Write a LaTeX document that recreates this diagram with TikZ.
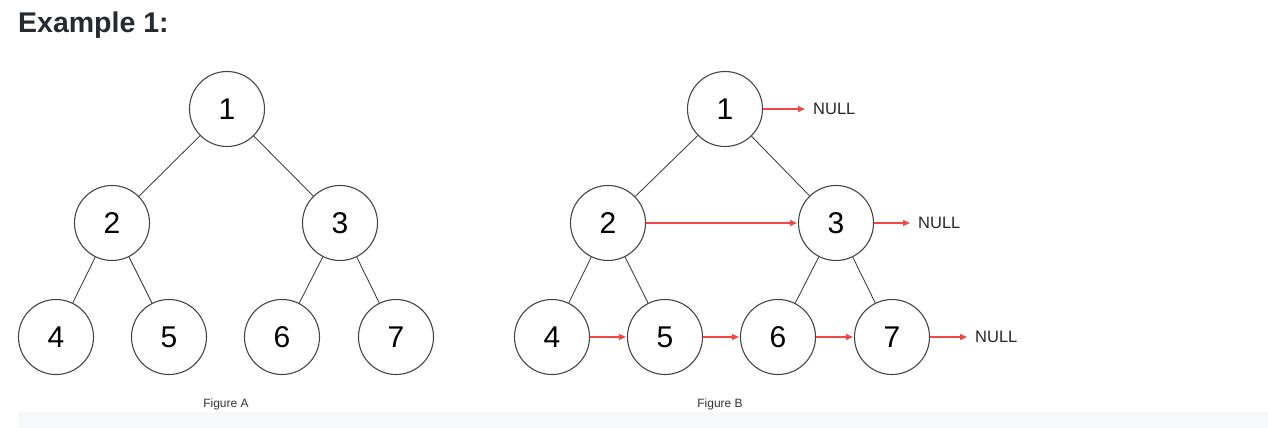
\documentclass[tikz,border=0pt]{standalone}
\usepackage{fontspec}
\setmainfont{Liberation Sans}
\usetikzlibrary{arrows.meta}
\definecolor{titlecol}{HTML}{262B31}
\definecolor{edgecol}{HTML}{444444}
\definecolor{redcol}{HTML}{F04848}
\definecolor{barcol}{HTML}{F7F8FA}
\definecolor{capcol}{HTML}{333333}
\tikzset{
  treenode/.style={circle, draw=edgecol, line width=1.1pt, minimum size=75pt, inner sep=0pt, font=\fontsize{30}{30}\selectfont},
  treeedge/.style={draw=edgecol, line width=0.9pt},
  nextarrow/.style={draw=redcol, line width=1.3pt, -{Triangle[length=7pt,width=6pt]}, shorten >=1pt},
  nulltext/.style={anchor=west, inner sep=0pt, font=\fontsize{16.5}{16.5}\selectfont, text=black!85},
  captext/.style={inner sep=0pt, font=\fontsize{12}{12}\selectfont, text=capcol}
}
\begin{document}
\begin{tikzpicture}[x=1pt,y=-1pt]
\useasboundingbox (0,0) rectangle (1268,428);
\fill[barcol] (18,412) rectangle (1268,428);
\node[anchor=base west, inner sep=0pt, font=\bfseries\fontsize{28.5}{28.5}\selectfont, text=titlecol] (title) at (18,33) {Example 1:};
% Figure A
\node[treenode] (a1) at (227,109) {1};
\node[treenode] (a2) at (112,223) {2};
\node[treenode] (a3) at (340,223) {3};
\node[treenode] (a4) at (56,337) {4};
\node[treenode] (a5) at (169,337) {5};
\node[treenode] (a6) at (282,337) {6};
\node[treenode] (a7) at (396,337) {7};
\draw[treeedge] (a1) -- (a2);
\draw[treeedge] (a1) -- (a3);
\draw[treeedge] (a2) -- (a4);
\draw[treeedge] (a2) -- (a5);
\draw[treeedge] (a3) -- (a6);
\draw[treeedge] (a3) -- (a7);
\node[captext] (capA) at (226,404) {Figure A};
% Figure B
\node[treenode] (b1) at (725,109) {1};
\node[treenode] (b2) at (608,223) {2};
\node[treenode] (b3) at (836,223) {3};
\node[treenode] (b4) at (552,337) {4};
\node[treenode] (b5) at (665,337) {5};
\node[treenode] (b6) at (778,337) {6};
\node[treenode] (b7) at (892,337) {7};
\draw[treeedge] (b1) -- (b2);
\draw[treeedge] (b1) -- (b3);
\draw[treeedge] (b2) -- (b4);
\draw[treeedge] (b2) -- (b5);
\draw[treeedge] (b3) -- (b6);
\draw[treeedge] (b3) -- (b7);
\node[captext] (capB) at (720,404) {Figure B};
\node[nulltext] (n1) at (813,109) {NULL};
\node[nulltext] (n3) at (918,223) {NULL};
\node[nulltext] (n7) at (975,337) {NULL};
\draw[nextarrow] (b1) -- ([xshift=-7pt]n1.west);
\draw[nextarrow] (b3) -- ([xshift=-7pt]n3.west);
\draw[nextarrow] (b7) -- ([xshift=-7pt]n7.west);
\draw[nextarrow] (b2) -- (b3);
\draw[nextarrow] (b4) -- (b5);
\draw[nextarrow] (b5) -- (b6);
\draw[nextarrow] (b6) -- (b7);
\end{tikzpicture}
\end{document}
